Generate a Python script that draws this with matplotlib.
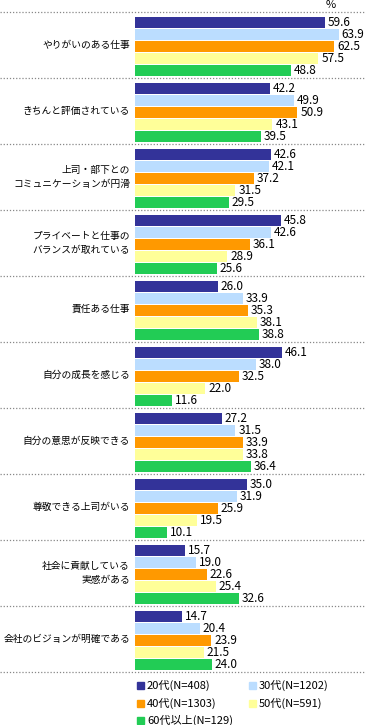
import numpy as np
import matplotlib.pyplot as plt
import matplotlib.transforms as mtransforms
from matplotlib.patches import Rectangle

plt.rcParams['font.family'] = ['Noto Sans CJK JP', 'DejaVu Sans']

# データ
categories = ['やりがいのある仕事', 'きちんと評価されている', '上司・部下との\nコミュニケーションが円滑',
              'プライベートと仕事の\nバランスが取れている', '責任ある仕事', '自分の成長を感じる',
              '自分の意思が反映できる', '尊敬できる上司がいる', '社会に貢献している\n実感がある',
              '会社のビジョンが明確である']
series_names = ['20代(N=408)', '30代(N=1202)', '40代(N=1303)', '50代(N=591)', '60代以上(N=129)']
v20 = [59.6, 42.2, 42.6, 45.8, 26.0, 46.1, 27.2, 35.0, 15.7, 14.7]
v30 = [63.9, 49.9, 42.1, 42.6, 33.9, 38.0, 31.5, 31.9, 19.0, 20.4]
v40 = [62.5, 50.9, 37.2, 36.1, 35.3, 32.5, 33.9, 25.9, 22.6, 23.9]
v50 = [57.5, 43.1, 31.5, 28.9, 38.1, 22.0, 33.8, 19.5, 25.4, 21.5]
v60 = [48.8, 39.5, 29.5, 25.6, 38.8, 11.6, 36.4, 10.1, 32.6, 24.0]
series = [v20, v30, v40, v50, v60]
colors = ['#333399', '#BBDDFF', '#FF9900', '#FFFF99', '#22CC55']

W, H = 365, 725
fig = plt.figure(figsize=(W / 100, H / 100), dpi=100)
# 描画エリア（ピクセル指定）
left, right, top, bottom = 135, 365, 12, 672
ax = fig.add_axes([left / W, (H - bottom) / H, (right - left) / W, (bottom - top) / H])

n = len(categories)
ax.set_xlim(0, (right - left) / 3.19)
ax.set_ylim(n, 0)

grp = (bottom - top) / n
bar_h = 11.3 / grp
for k, (vals, c) in enumerate(zip(series, colors)):
    y = np.arange(n) + (10.5 + 12 * k) / grp
    ax.barh(y, vals, height=bar_h, color=c, edgecolor='none')
    for yi, v in zip(y, vals):
        ax.text(v + 0.9, yi, f'{v:.1f}', va='center', ha='left', fontsize=8.5, color='black')

# 区切り線（図の左端から右端まで）
trans = mtransforms.blended_transform_factory(fig.transFigure, ax.transData)
for i in range(n + 1):
    ax.plot([0, 1], [i, i], transform=trans, color='#888888', linestyle=(0, (1, 1.5)),
            linewidth=0.9, clip_on=False)

# カテゴリ名
for i, cat in enumerate(categories):
    fig.text(130 / W, 1 - (top + grp * (i + 0.5)) / H, cat, ha='right', va='center',
             fontsize=7, linespacing=1.6)

fig.text(331 / W, 1 - 5 / H, '%', ha='center', va='center', fontsize=8)

ax.axis('off')

# 凡例
leg_pos = [(137, 685), (249, 685), (137, 703), (249, 703), (137, 720)]
for (lx, ly), name, c in zip(leg_pos, series_names, colors):
    fig.patches.append(Rectangle(((lx) / W, 1 - (ly + 3.5) / H), 7 / W, 7 / H,
                                 transform=fig.transFigure, color=c, figure=fig))
    fig.text((lx + 10) / W, 1 - ly / H, name, ha='left', va='center', fontsize=8)

plt.savefig('out.png', dpi=100)
